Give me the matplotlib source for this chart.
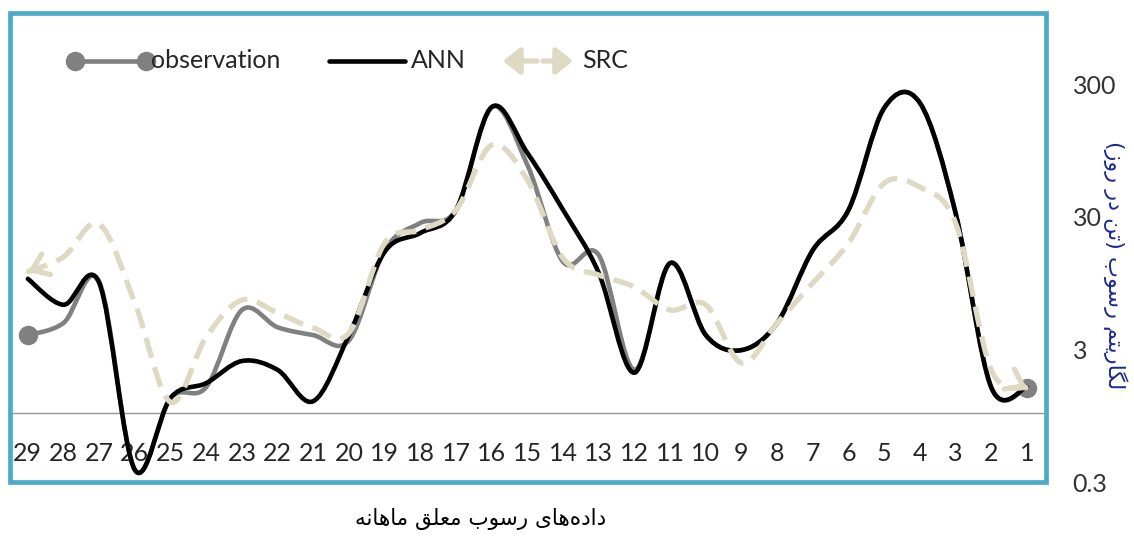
import numpy as np
import matplotlib
matplotlib.use('Agg')
import matplotlib.pyplot as plt
from matplotlib.path import Path
from matplotlib.patches import PathPatch, Rectangle, FancyArrowPatch
from matplotlib.lines import Line2D

# ---------------- data (months 29 -> 1, left to right) ----------------
months = list(range(29, 0, -1))
observation = [3.84, 4.74, 9.7, 0.37, 1.29, 1.56, 5.94, 4.4, 3.84, 3.5,
               16.8, 26.9, 33.7, 201, 73.6, 13.7, 15.4, 2.1, 13.4, 3.84,
               2.96, 4.74, 16.8, 33.7, 198, 216, 32, 1.55, 1.53]
ann = [10.2, 6.5, 9.5, 0.37, 1.29, 1.67, 2.45, 2.1, 1.22, 3.84,
       16.3, 22.6, 33.7, 201, 90.6, 33.7, 11.3, 2.0, 13.4, 3.84,
       2.96, 4.74, 16.8, 33.7, 198, 216, 32, 1.55, 1.56]
src = [11.5, 14.9, 26.4, 6.7, 1.2, 3.72, 7.06, 5.64, 4.35, 3.98,
       19.0, 23.8, 33.7, 104, 56.7, 14.6, 10.9, 8.85, 5.94, 6.5,
       2.37, 4.74, 9.5, 19.0, 53.7, 50.0, 26.9, 2.1, 1.53]
y_ticks = [0.3, 3, 30, 300]
y_ticklabels = ['0.3', '3', '30', '300']

xlabel_fa = 'داده\u200cهای رسوب معلق ماهانه'
ylabel_fa = 'لگاریتم رسوب (تن در روز)'

# ---------------- minimal persian shaping (no raqm in matplotlib) ----------------
FORMS = {  # isolated, final, initial, medial
    'ا': ('\ufe8d', '\ufe8e', '\ufe8d', '\ufe8e'),
    'ب': ('\ufe8f', '\ufe90', '\ufe91', '\ufe92'),
    'ت': ('\ufe95', '\ufe96', '\ufe97', '\ufe98'),
    'د': ('\ufea9', '\ufeaa', '\ufea9', '\ufeaa'),
    'ر': ('\ufead', '\ufeae', '\ufead', '\ufeae'),
    'ز': ('\ufeaf', '\ufeb0', '\ufeaf', '\ufeb0'),
    'س': ('\ufeb1', '\ufeb2', '\ufeb3', '\ufeb4'),
    'ع': ('\ufec9', '\ufeca', '\ufecb', '\ufecc'),
    'ق': ('\ufed5', '\ufed6', '\ufed7', '\ufed8'),
    'ل': ('\ufedd', '\ufede', '\ufedf', '\ufee0'),
    'م': ('\ufee1', '\ufee2', '\ufee3', '\ufee4'),
    'ن': ('\ufee5', '\ufee6', '\ufee7', '\ufee8'),
    'ه': ('\ufee9', '\ufeea', '\ufeeb', '\ufeec'),
    'و': ('\ufeed', '\ufeee', '\ufeed', '\ufeee'),
    'ی': ('\ufbfc', '\ufbfd', '\ufbfe', '\ufbff'),
    'گ': ('\ufb92', '\ufb93', '\ufb94', '\ufb95'),
}
RIGHT_ONLY = set('ادذرزژو')


def shape_fa(text):
    out = []
    for i, ch in enumerate(text):
        if ch == '\u200c':
            continue
        if ch not in FORMS:
            out.append({'(': ')', ')': '('}.get(ch, ch))
            continue
        prev = text[i - 1] if i > 0 else ''
        nxt = text[i + 1] if i + 1 < len(text) else ''
        jp = prev in FORMS and prev not in RIGHT_ONLY
        jn = nxt in FORMS and ch not in RIGHT_ONLY
        idx = 3 if (jp and jn) else 1 if jp else 2 if jn else 0
        out.append(FORMS[ch][idx])
    return ''.join(reversed(out))


def smooth_path(xs, ys):
    # excel-like smoothed line: catmull-rom bezier in (x, log y) space
    pts = np.column_stack([xs, np.log10(ys)]).astype(float)
    ext = np.vstack([pts[0], pts, pts[-1]])
    verts = [pts[0]]
    codes = [Path.MOVETO]
    for i in range(len(pts) - 1):
        p0, p1, p2, p3 = ext[i], ext[i + 1], ext[i + 2], ext[i + 3]
        verts += [p1 + (p2 - p0) / 6, p2 - (p3 - p1) / 6, p2]
        codes += [Path.CURVE4] * 3
    verts = np.array(verts)
    verts[:, 1] = 10 ** verts[:, 1]
    return Path(verts, codes), verts


# ---------------- figure ----------------
W, H = 1134, 536
fig = plt.figure(figsize=(W / 100, H / 100), dpi=100)
fig.patch.set_facecolor('white')
fx = lambda px: px / W
fy = lambda py: 1 - py / H

FONT = ['Lato', 'DejaVu Sans']
TXT = '#262626'
C_OBS = '#808080'
C_ANN = '#000000'
C_SRC = '#ddd9c3'
C_BOX = '#4bacc6'

ax = fig.add_axes([fx(10), fy(482), fx(1045.5) - fx(10), fy(84) - fy(482)])
ax.set_yscale('log')
ax.set_ylim(0.3, 300)
ax.set_xlim(29.5, 0.48)
ax.patch.set_visible(False)
for s in ['top', 'left', 'right']:
    ax.spines[s].set_visible(False)
ax.spines['bottom'].set_position(('data', 1))
ax.spines['bottom'].set_color('#969696')
ax.spines['bottom'].set_linewidth(1.0)

ax.set_xticks(months, [str(m) for m in months])
ax.tick_params(axis='x', length=0, pad=21, labelsize=18, labelcolor=TXT)
ax.yaxis.tick_right()
ax.set_yticks(y_ticks, y_ticklabels)
ax.minorticks_off()
ax.tick_params(axis='y', which='both', length=0, pad=19.5, labelsize=18,
               labelcolor='#333333')
for lab in ax.get_xticklabels() + ax.get_yticklabels():
    lab.set_family(FONT)
for lab in ax.get_yticklabels():
    lab.set_horizontalalignment('left')

# observation
p_obs, _ = smooth_path(months, observation)
ax.add_patch(PathPatch(p_obs, fill=False, ec=C_OBS, lw=3.3, zorder=3,
                       clip_on=False, capstyle='round', joinstyle='round'))
ax.plot([months[0], months[-1]], [observation[0], observation[-1]], 'o',
        color=C_OBS, ms=13, zorder=3, clip_on=False)

# ANN
p_ann, _ = smooth_path(months, ann)
ax.add_patch(PathPatch(p_ann, fill=False, ec=C_ANN, lw=3.3, zorder=4,
                       clip_on=False, capstyle='round', joinstyle='round'))

# SRC (dashed, arrow heads at both ends)
p_src, v_src = smooth_path(months, src)
ax.add_patch(PathPatch(p_src, fill=False, ec=C_SRC, lw=3.8, zorder=5,
                       ls=(0, (3.9, 1.9)), clip_on=False))
for tip, ctrl in [(v_src[0], v_src[1]), (v_src[-1], v_src[-2])]:
    back = (tip[0] + 0.15 * (ctrl[0] - tip[0]),
            10 ** (np.log10(tip[1]) + 0.15 * (np.log10(ctrl[1]) - np.log10(tip[1]))))
    ax.annotate('', xy=tip, xytext=back, zorder=5, annotation_clip=False,
                arrowprops=dict(arrowstyle='->,head_length=0.55,head_width=0.4',
                                color=C_SRC, lw=3.8, shrinkA=0, shrinkB=0,
                                mutation_scale=20))

# ---------------- legend (drawn by hand, excel style) ----------------
ly = fy(61)
fig.add_artist(Line2D([fx(75), fx(146)], [ly, ly], color=C_OBS, lw=3.3,
                      marker='o', ms=13, transform=fig.transFigure))
fig.text(fx(151), fy(60), 'observation', ha='left', va='center', fontsize=18,
         color=TXT, family=FONT)
fig.add_artist(Line2D([fx(329), fx(405)], [ly, ly], color=C_ANN, lw=3.3,
                      solid_capstyle='round', transform=fig.transFigure))
fig.text(fx(411), fy(60), 'ANN', ha='left', va='center', fontsize=18,
         color=TXT, family=FONT)
for a, b in [(fx(537), fx(503)), (fx(543), fx(573))]:
    fig.add_artist(FancyArrowPatch(
        (a, ly), (b, ly), transform=fig.transFigure,
        arrowstyle='-|>,head_length=0.5,head_width=0.4', mutation_scale=20,
        color=C_SRC, lw=3.8, shrinkA=0, shrinkB=0))
fig.text(fx(582), fy(60), 'SRC', ha='left', va='center', fontsize=18,
         color=TXT, family=FONT)

# ---------------- frame and persian titles ----------------
fig.add_artist(Rectangle((fx(10), fy(481.5)), fx(1045.5) - fx(10),
                         fy(13) - fy(481.5), transform=fig.transFigure,
                         fill=False, ec=C_BOX, lw=3.4, zorder=10))

fig.text(fx(481), fy(519), shape_fa(xlabel_fa), ha='center', va='center',
         fontsize=15.5, color='#000000', family=['DejaVu Sans'])
fig.text(fx(1115), fy(265), shape_fa(ylabel_fa), ha='center', va='center',
         rotation=270, fontsize=16, color='#1c2a8c', family=['DejaVu Sans'])

fig.savefig('out.png', dpi=100, facecolor=fig.get_facecolor())
